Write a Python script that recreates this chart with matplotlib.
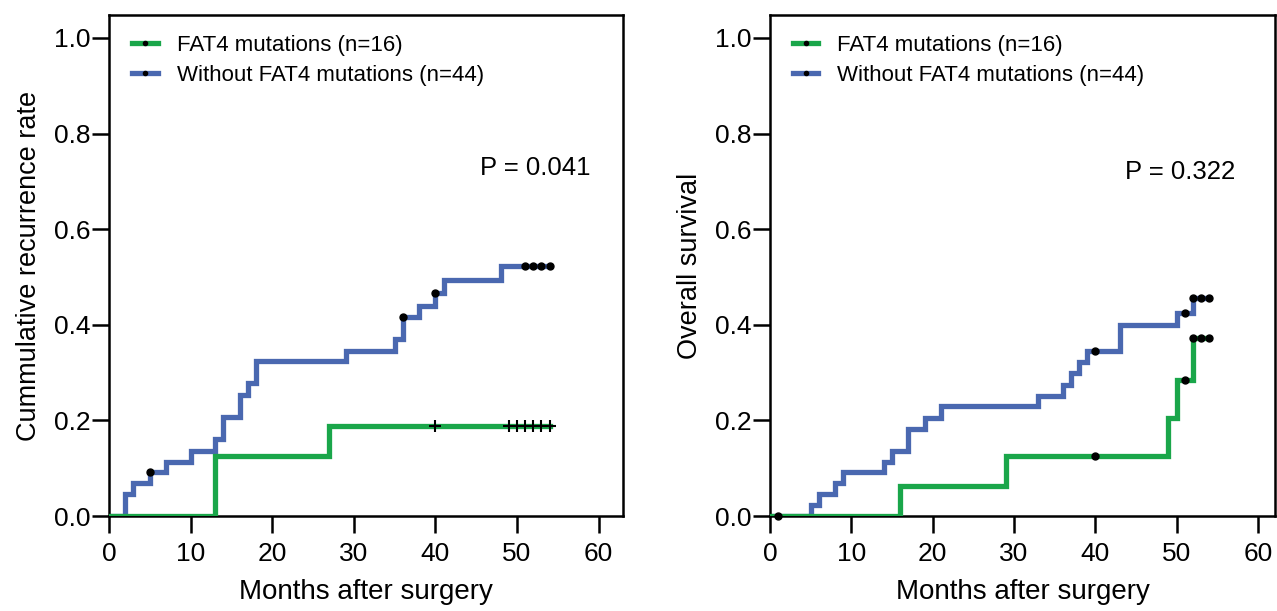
import numpy as np
import matplotlib
matplotlib.use('Agg')
import matplotlib.pyplot as plt
from matplotlib.lines import Line2D

plt.rcParams['font.family'] = ['Liberation Sans', 'DejaVu Sans']

# Left panel: cumulative recurrence rate
rec_mut_t = [0, 13, 27, 54]
rec_mut_v = [0, 0.125, 0.1875, 0.1875]
rec_mut_cens = [40, 49, 50, 51, 52, 53, 54]

rec_wt_t = [0, 2, 3, 5, 7, 10, 13, 14, 16, 17, 18, 29, 35, 36, 38, 40, 41, 48, 54]
rec_wt_v = [0, 0.045, 0.068, 0.091, 0.114, 0.136, 0.161, 0.208, 0.254, 0.278,
            0.325, 0.346, 0.370, 0.417, 0.440, 0.466, 0.494, 0.522, 0.522]
rec_wt_cens = [5, 36, 40, 51, 52, 53, 54]

# Right panel: overall survival
os_mut_t = [0, 16, 29, 49, 50, 52, 54]
os_mut_v = [0, 0.0625, 0.125, 0.205, 0.284, 0.373, 0.373]
os_mut_cens = [1, 40, 51, 52, 53, 54]

os_wt_t = [0, 5, 6, 8, 9, 14, 15, 17, 19, 21, 33, 36, 37, 38, 39, 43, 50, 52, 54]
os_wt_v = [0, 0.023, 0.045, 0.068, 0.091, 0.114, 0.136, 0.182, 0.205, 0.230,
           0.251, 0.275, 0.299, 0.322, 0.345, 0.399, 0.424, 0.456, 0.456]
os_wt_cens = [40, 51, 52, 53, 54]

labels = ['FAT4 mutations (n=16)', 'Without FAT4 mutations (n=44)']
p_left = 'P = 0.041'
p_right = 'P = 0.322'

green = '#1aa64a'
blue = '#4a68b0'
lw = 3.8


def step_at(t, v, c):
    idx = np.searchsorted(t, c, side='right') - 1
    return np.asarray(v)[idx]


fig = plt.figure(figsize=(12.77, 6.11), dpi=100)
ax1 = fig.add_axes([109 / 1277, 95 / 611, 514 / 1277, 501 / 611])
ax2 = fig.add_axes([770 / 1277, 95 / 611, 505 / 1277, 501 / 611])

def style(ax, xmax):
    ax.set_xlim(0, xmax)
    ax.set_ylim(0, 1.048)
    ax.set_xticks([0, 10, 20, 30, 40, 50, 60])
    ax.set_yticks([0, 0.2, 0.4, 0.6, 0.8, 1.0])
    ax.set_yticklabels(['0.0', '0.2', '0.4', '0.6', '0.8', '1.0'])
    for s in ax.spines.values():
        s.set_linewidth(1.8)
    ax.tick_params(axis='both', length=12, width=1.8, labelsize=19)
    ax.tick_params(axis='x', pad=7)
    ax.tick_params(axis='y', pad=1)
    ax.set_xlabel('Months after surgery', fontsize=20, labelpad=9)


def draw(ax, t, v, cens, color, marker, z):
    ax.step(t, v, where='post', color=color, lw=lw, zorder=z, solid_joinstyle='miter')
    cy = step_at(t, v, cens)
    if marker == '+':
        ax.plot(cens, cy, '+', color='black', ms=8, mew=1.5, zorder=z + 1, clip_on=False)
    else:
        ax.plot(cens, cy, 'o', color='black', ms=5, zorder=z + 1, clip_on=False)


style(ax1, 63)
draw(ax1, rec_wt_t, rec_wt_v, rec_wt_cens, blue, 'o', 2)
draw(ax1, rec_mut_t, rec_mut_v, rec_mut_cens, green, '+', 4)
ax1.set_ylabel('Cummulative recurrence rate', fontsize=19.5, labelpad=9)
ax1.text(52.2, 0.728, p_left, fontsize=18.5, ha='center', va='center')

style(ax2, 62.1)
draw(ax2, os_wt_t, os_wt_v, os_wt_cens, blue, 'o', 2)
draw(ax2, os_mut_t, os_mut_v, os_mut_cens, green, 'o', 4)
ax2.set_ylabel('Overall survival', fontsize=19.5, labelpad=9)
ax2.text(50.4, 0.72, p_right, fontsize=18.5, ha='center', va='center')

for ax in (ax1, ax2):
    handles = [Line2D([], [], color=green, lw=lw, marker='o', ms=3, mfc='black', mec='black'),
               Line2D([], [], color=blue, lw=lw, marker='o', ms=3, mfc='black', mec='black')]
    ax.legend(handles, labels, loc='upper left', bbox_to_anchor=(0.045, 0.96),
              frameon=False, fontsize=16, handlelength=1.15, handletextpad=0.85,
              labelspacing=0.4, borderpad=0, borderaxespad=0, numpoints=1)

fig.savefig('out.png', dpi=100, facecolor='white')
